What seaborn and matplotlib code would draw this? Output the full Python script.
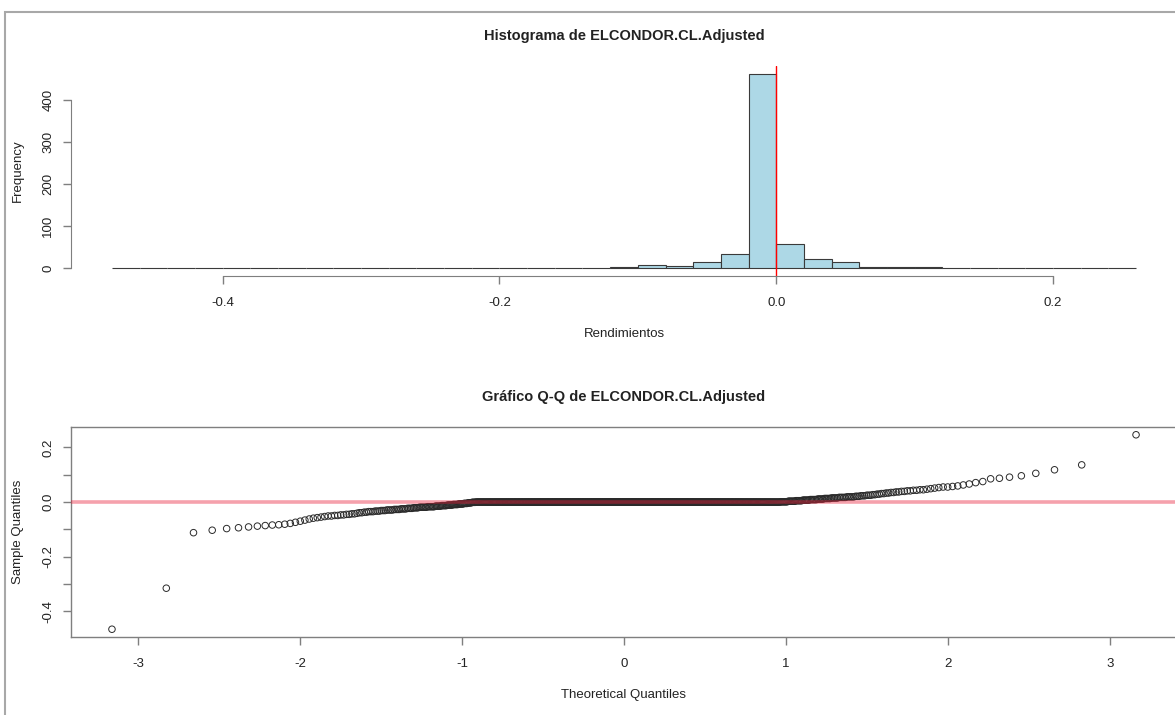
import matplotlib
matplotlib.use("Agg")
import matplotlib.pyplot as plt
import numpy as np
import seaborn as sns
from statistics import NormalDist
from matplotlib.ticker import FixedLocator, FuncFormatter

# Rendimientos de ELCONDOR.CL.Adjusted
TAIL_NEG = [-0.465, -0.315, -0.112, -0.103, -0.097, -0.094, -0.091, -0.088,
            -0.086, -0.084, -0.083, -0.081, -0.078, -0.074, -0.070, -0.066, -0.062]
TAIL_POS = [0.0625, 0.066, 0.071, 0.075, 0.085, 0.087, 0.091, 0.096,
            0.105, 0.118, 0.136, 0.246]
CORE_VALUES = [-0.059, -0.057, -0.055, -0.053, -0.051, -0.049, -0.047, -0.045, -0.043, -0.041,
               -0.039, -0.037, -0.035, -0.033, -0.031, -0.029, -0.027, -0.025, -0.023, -0.021,
               -0.019, -0.017, -0.015, -0.013, -0.011, -0.009, -0.007, -0.005, -0.003, -0.001,
               0.0,
               0.001, 0.003, 0.005, 0.007, 0.009, 0.011, 0.013, 0.015, 0.017, 0.019,
               0.021, 0.023, 0.025, 0.027, 0.029, 0.031, 0.033, 0.035, 0.037, 0.039,
               0.041, 0.043, 0.045, 0.047, 0.049, 0.051, 0.053, 0.055, 0.057, 0.059]
CORE_COUNTS = [1, 1, 1, 1, 2, 2, 2, 2, 2, 1,
               2, 2, 3, 3, 3, 4, 4, 4, 4, 4,
               6, 6, 5, 5, 5, 5, 5, 4, 4, 4,
               414,
               7, 7, 6, 6, 6, 5, 5, 5, 5, 5,
               3, 3, 3, 2, 2, 2, 2, 2, 2, 2,
               2, 2, 2, 1, 1, 1, 1, 2, 1, 1]

HIST_TITLE = "Histograma de ELCONDOR.CL.Adjusted"
QQ_TITLE = "Gráfico Q-Q de ELCONDOR.CL.Adjusted"

returns = np.sort(np.concatenate([TAIL_NEG,
                                  np.repeat(CORE_VALUES, CORE_COUNTS),
                                  TAIL_POS]))
n = len(returns)

sns.set_style("white")
plt.rcParams["font.family"] = ["Liberation Sans", "DejaVu Sans"]
plt.rcParams["axes.unicode_minus"] = False
plt.rcParams["text.color"] = "#222222"
plt.rcParams["axes.labelcolor"] = "#222222"

W, H = 1175, 715
fig = plt.figure(figsize=(W / 100, H / 100), dpi=100)


def px_axes(left, top, right, bottom):
    return fig.add_axes([left / W, 1 - bottom / H, (right - left) / W, (bottom - top) / H])


def r_lim(lo, hi):
    ext = (hi - lo) * 0.04
    return lo - ext, hi + ext


AX_COL = "#7f7f7f"
TICK_KW = dict(direction="out", length=6, width=1, labelsize=9.5,
               bottom=True, left=True, color=AX_COL, labelcolor="#222222")


def style_axes(ax, xlabel, ylabel, title):
    ax.tick_params(**TICK_KW)
    ax.tick_params(axis="x", pad=9)
    ax.tick_params(axis="y", labelrotation=90, pad=6)
    for lab in ax.get_yticklabels():
        lab.set_va("center")
    ax.set_xlabel(xlabel, fontsize=9.5, labelpad=14)
    ax.set_ylabel(ylabel, fontsize=9.5, labelpad=13)
    ax.set_title(title, fontsize=10.5, fontweight="bold", pad=19)


# ---------- Histograma ----------
ax1 = px_axes(71, 66, 1177, 276)
edges = np.round(np.arange(-0.48, 0.2601, 0.02), 2) + 1e-9  # intervalos (a, b] como en R
sns.histplot(x=returns, bins=edges, color="#add8e6", alpha=1, edgecolor="#3a3a3a",
             linewidth=0.8, ax=ax1)
counts, _ = np.histogram(returns, bins=edges)
ax1.set_xlim(*r_lim(edges[0], edges[-1]))
ax1.set_ylim(*r_lim(0, counts.max()))
ax1.axvline(0, color="red", lw=1)
for s in ["top", "right"]:
    ax1.spines[s].set_visible(False)
for s in ["left", "bottom"]:
    ax1.spines[s].set_color(AX_COL)
ax1.spines["left"].set_bounds(0, 400)
ax1.spines["bottom"].set_bounds(-0.4, 0.2)
ax1.xaxis.set_major_locator(FixedLocator([-0.4, -0.2, 0.0, 0.2]))
ax1.xaxis.set_major_formatter(FuncFormatter(lambda v, p: f"{v:.1f}"))
ax1.yaxis.set_major_locator(FixedLocator([0, 100, 200, 300, 400]))
style_axes(ax1, "Rendimientos", "Frequency", HIST_TITLE)

# ---------- Q-Q ----------
ax2 = px_axes(71, 427, 1177, 637)
nd = NormalDist()
theo = np.array([nd.inv_cdf((i - 0.5) / n) for i in range(1, n + 1)])
sns.scatterplot(x=theo, y=returns, marker="o", s=22, facecolor="none",
                edgecolor="#2a2a2a", linewidth=0.7, ax=ax2, zorder=2)
q1, q3 = np.percentile(returns, [25, 75])
z1, z3 = nd.inv_cdf(0.25), nd.inv_cdf(0.75)
slope = (q3 - q1) / (z3 - z1)
ax2.axline((0, q1 - slope * z1), slope=slope, color="#e8203a", alpha=0.42, lw=2.6, zorder=3)
ax2.set_xlim(*r_lim(theo.min(), theo.max()))
ax2.set_ylim(*r_lim(returns.min(), returns.max()))
for s in ax2.spines.values():
    s.set_color(AX_COL)
    s.set_linewidth(1)
ax2.xaxis.set_major_locator(FixedLocator([-3, -2, -1, 0, 1, 2, 3]))
ax2.xaxis.set_major_formatter(FuncFormatter(lambda v, p: f"{v:.0f}"))
ax2.yaxis.set_major_locator(FixedLocator([-0.4, -0.3, -0.2, -0.1, 0.0, 0.1, 0.2]))
ax2.yaxis.set_major_formatter(
    FuncFormatter(lambda v, p: f"{v:.1f}" if round(v * 10) % 2 == 0 else ""))
style_axes(ax2, "Theoretical Quantiles", "Sample Quantiles", QQ_TITLE)

# marco exterior
fig.add_artist(plt.Rectangle((5 / W, -0.05), 1.1, 1.05 - 12 / H, transform=fig.transFigure,
                             fill=False, edgecolor="#a8a8a8", lw=1.5))

fig.savefig("out.png", dpi=100)
